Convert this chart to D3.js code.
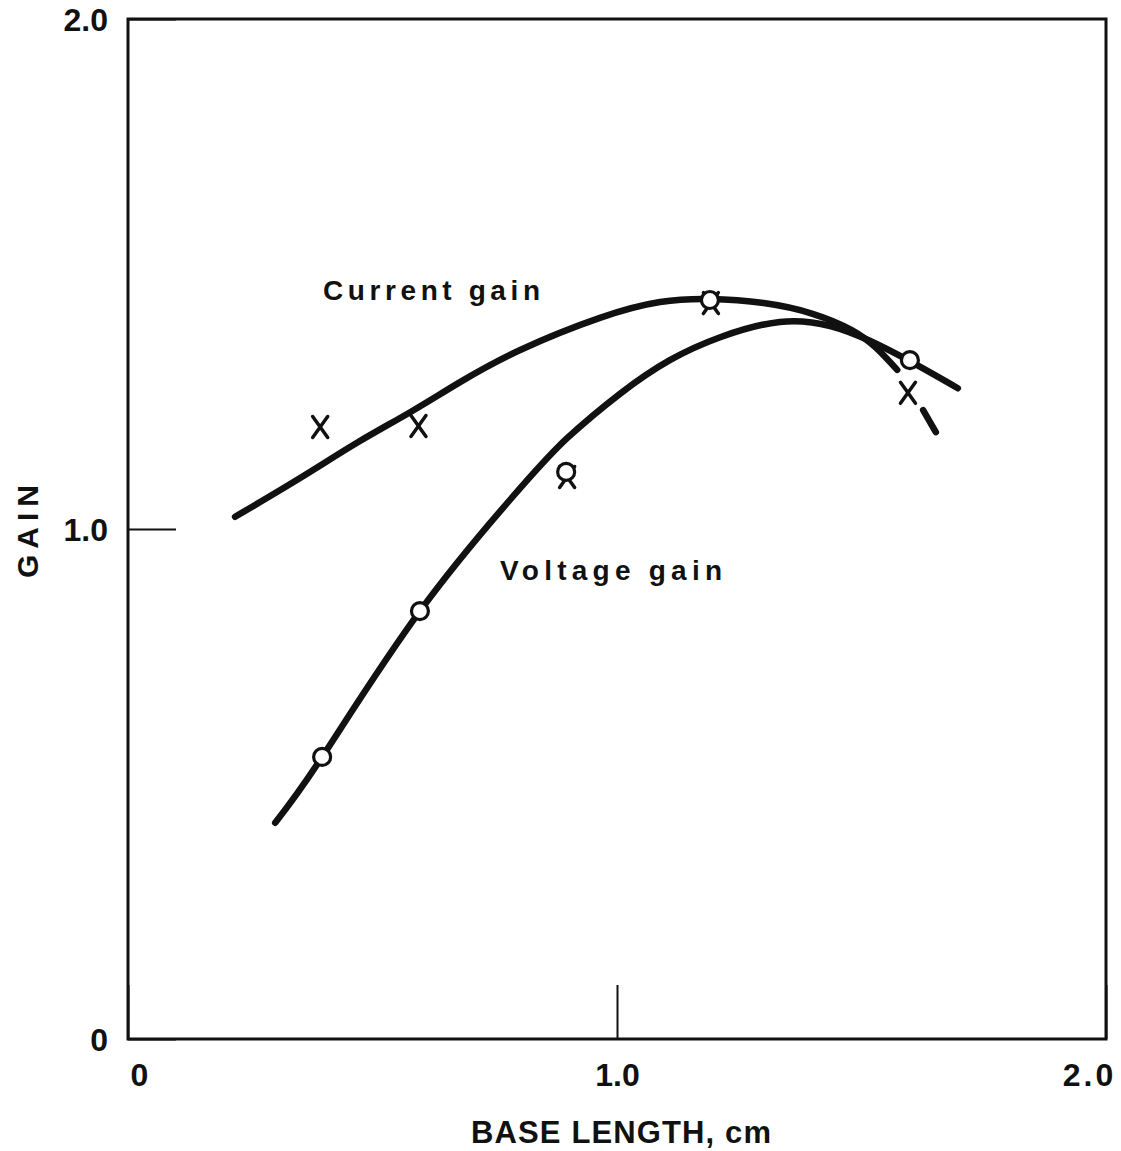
<!DOCTYPE html>
<html>
<head>
<meta charset="utf-8">
<script src="https://cdn.jsdelivr.net/npm/d3@7"></script>
<style>
  html, body { margin: 0; padding: 0; background: #fff; }
  svg { display: block; }
  text { font-family: "Liberation Sans", Arial, sans-serif; font-weight: bold; fill: #111; }
</style>
</head>
<body>
<svg id="chart" width="1121" height="1151"></svg>
<script>
// Base length (cm) vs gain, smooth fitted curves plus measured points
const currentCurveX = [0.219, 0.352, 0.470, 0.577, 0.679, 0.802, 0.965, 1.088, 1.190, 1.300, 1.400, 1.480, 1.530, 1.573];
const currentCurveY = [1.024, 1.100, 1.170, 1.229, 1.288, 1.351, 1.414, 1.445, 1.451, 1.443, 1.422, 1.390, 1.355, 1.312];
const currentDashX = [1.626, 1.652];
const currentDashY = [1.233, 1.190];

const voltageCurveX = [0.301, 0.397, 0.597, 0.802, 0.898, 1.006, 1.108, 1.211, 1.333, 1.436, 1.517, 1.599, 1.697];
const voltageCurveY = [0.424, 0.553, 0.839, 1.080, 1.178, 1.265, 1.331, 1.376, 1.406, 1.398, 1.369, 1.329, 1.276];

// measured points: crosses = current gain, circles = voltage gain
const currentPtsX = [0.393, 0.594, 0.898, 1.192, 1.595];
const currentPtsY = [1.200, 1.202, 1.102, 1.443, 1.267];
const voltagePtsX = [0.397, 0.597, 0.896, 1.190, 1.599];
const voltagePtsY = [0.553, 0.839, 1.112, 1.449, 1.331];

const tickValues = [0, 1, 2];
const tickLabels = ["0", "1.0", "2.0"];

const svg = d3.select("#chart");
const x = d3.scaleLinear().domain([0, 2]).range([128, 1106]);
const y = d3.scaleLinear().domain([0, 2]).range([1039, 19]);

// frame
svg.append("rect")
  .attr("x", x(0)).attr("y", y(2))
  .attr("width", x(2) - x(0)).attr("height", y(0) - y(2))
  .attr("fill", "none").attr("stroke", "#111").attr("stroke-width", 3);

// axes with short inward ticks
const fmt = (d, i) => tickLabels[i];
const yAxis = svg.append("g").attr("transform", `translate(${x(0)},0)`)
  .call(d3.axisLeft(y).tickValues(tickValues).tickFormat(fmt).tickSize(-48).tickPadding(20));
const xAxis = svg.append("g").attr("transform", `translate(0,${y(0)})`)
  .call(d3.axisBottom(x).tickValues(tickValues).tickFormat(fmt).tickSize(-54).tickPadding(24));
[yAxis, xAxis].forEach(g => {
  g.select(".domain").remove();
  g.selectAll(".tick line").attr("stroke", "#111").attr("stroke-width", 2);
  g.selectAll(".tick text")
    .style("font-family", '"Liberation Sans", Arial, sans-serif')
    .style("font-weight", "bold").style("font-size", "32px").attr("fill", "#111");
});
yAxis.selectAll(".tick text").attr("dy", "0.36em");
xAxis.selectAll(".tick text").attr("dx", (d) => d === 0 ? 11 : d === 2 ? -17 : 0)
  .attr("letter-spacing", (d) => d === 2 ? 3 : 0);

// curves
const line = d3.line().x(d => x(d[0])).y(d => y(d[1])).curve(d3.curveNatural);
const zip = (a, b) => a.map((v, i) => [v, b[i]]);
const curveStyle = sel => sel.attr("fill", "none").attr("stroke", "#111")
  .attr("stroke-width", 6.5).attr("stroke-linecap", "round").attr("stroke-linejoin", "round");

svg.append("path").datum(zip(currentCurveX, currentCurveY)).attr("d", line).call(curveStyle);
svg.append("path").datum(zip(currentDashX, currentDashY)).attr("d", line).call(curveStyle);
svg.append("path").datum(zip(voltageCurveX, voltageCurveY)).attr("d", line).call(curveStyle);

// cross markers
const cross = svg.append("g").selectAll("g").data(zip(currentPtsX, currentPtsY)).join("g")
  .attr("transform", d => `translate(${x(d[0])},${y(d[1])})`);
cross.append("line").attr("x1", -7.5).attr("y1", -10.5).attr("x2", 7.5).attr("y2", 10.5);
cross.append("line").attr("x1", 7.5).attr("y1", -10.5).attr("x2", -7.5).attr("y2", 10.5);
cross.selectAll("line").attr("stroke", "#111").attr("stroke-width", 3.5).attr("stroke-linecap", "round");

// circle markers
svg.append("g").selectAll("circle").data(zip(voltagePtsX, voltagePtsY)).join("circle")
  .attr("cx", d => x(d[0])).attr("cy", d => y(d[1])).attr("r", 8.5)
  .attr("fill", "#fff").attr("stroke", "#111").attr("stroke-width", 3.2);

// curve labels
svg.append("text").attr("x", 323).attr("y", 300).attr("font-size", 28)
  .attr("textLength", 217).attr("lengthAdjust", "spacing").text("Current gain");
svg.append("text").attr("x", 500).attr("y", 580).attr("font-size", 28)
  .attr("textLength", 222).attr("lengthAdjust", "spacing").text("Voltage gain");

// axis titles
svg.append("text").attr("x", 471).attr("y", 1143).attr("font-size", 31)
  .attr("textLength", 300).attr("lengthAdjust", "spacing").text("BASE LENGTH, cm");
svg.append("text").attr("transform", "translate(38,578) rotate(-90)").attr("font-size", 30)
  .attr("textLength", 93).attr("lengthAdjust", "spacing").text("GAIN");
</script>
</body>
</html>
